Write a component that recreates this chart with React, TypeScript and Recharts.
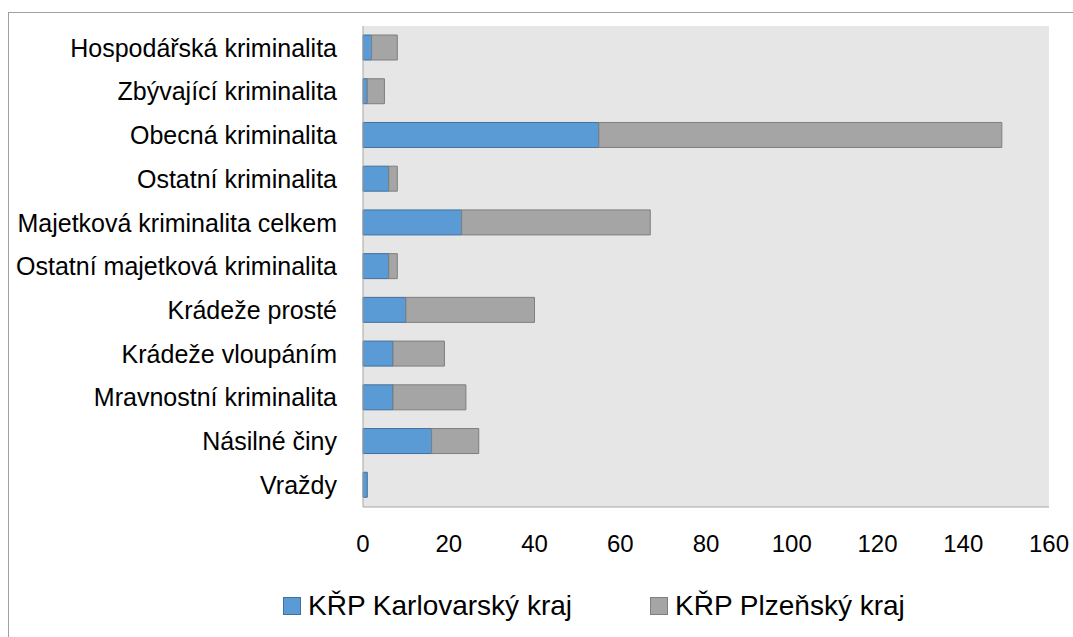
import React from "react";
import { BarChart, Bar, XAxis, YAxis, CartesianGrid, Legend } from "recharts";

const categories = [
  "Hospodářská kriminalita",
  "Zbývající kriminalita",
  "Obecná kriminalita",
  "Ostatní kriminalita",
  "Majetková kriminalita celkem",
  "Ostatní majetková kriminalita",
  "Krádeže prosté",
  "Krádeže vloupáním",
  "Mravnostní kriminalita",
  "Násilné činy",
  "Vraždy",
];
const karlovarsky = [2, 1, 55, 6, 23, 6, 10, 7, 7, 16, 1];
const plzensky = [6, 4, 94, 2, 44, 2, 30, 12, 17, 11, 0];
const xTicks = [0, 20, 40, 60, 80, 100, 120, 140, 160];

const seriesNames = ["KŘP Karlovarský kraj", "KŘP Plzeňský kraj"];
const seriesColors = ["#5b9bd5", "#a5a5a5"];
const seriesStrokes = ["#41719c", "#7f7f7f"];

const data = categories.map((name, i) => ({
  name,
  karlovarsky: karlovarsky[i],
  plzensky: plzensky[i],
}));

const FONT = '"Liberation Sans", Arial, sans-serif';

function CategoryTick(props: any) {
  const { x, y, payload } = props;
  return (
    <text x={x} y={y} dy="0.35em" textAnchor="end" fill="#000" fontSize={25} fontFamily={FONT}>
      {payload.value}
    </text>
  );
}

function LegendContent() {
  return (
    <div style={{ display: "flex", alignItems: "center", fontSize: 28, lineHeight: "32px", color: "#000", fontFamily: FONT, whiteSpace: "nowrap" }}>
      {seriesNames.map((n, i) => (
        <div key={n} style={{ display: "flex", alignItems: "center", marginRight: i === 0 ? 78 : 0 }}>
          <span
            style={{
              display: "inline-block",
              width: 18,
              height: 18,
              background: seriesColors[i],
              border: `1px solid ${seriesStrokes[i]}`,
              boxSizing: "border-box",
              marginRight: 7,
            }}
          />
          <span>{n}</span>
        </div>
      ))}
    </div>
  );
}

export default function App() {
  return (
    <div
      style={{
        position: "absolute",
        left: 0,
        top: 0,
        width: 1073,
        height: 637,
        overflow: "hidden",
        background: "#fff",
        fontFamily: FONT,
      }}
    >
      <div
        style={{
          position: "absolute",
          left: 8,
          top: 12,
          width: 1200,
          height: 700,
          border: "1px solid #a0a0a0",
        }}
      />
      <div style={{ position: "absolute", left: 0, top: 0 }}>
        <BarChart
          width={1073}
          height={637}
          data={data}
          layout="vertical"
          margin={{ top: 26, right: 24, left: 0, bottom: 80 }}
        >
          <CartesianGrid horizontal={false} vertical={false} fill="#e6e6e6" fillOpacity={1} stroke="none" />
          <XAxis
            type="number"
            domain={[0, 160]}
            ticks={xTicks}
            height={50}
            tickLine={false}
            tickSize={0}
            tickMargin={28}
            axisLine={{ stroke: "#a6a6a6", strokeWidth: 1 }}
            tick={{ fill: "#000", fontSize: 24 }}
          />
          <YAxis
            type="category"
            dataKey="name"
            width={363}
            tickLine={false}
            tickSize={0}
            tickMargin={26}
            axisLine={{ stroke: "#a6a6a6", strokeWidth: 1 }}
            tick={<CategoryTick />}
            interval={0}
          />
          <Legend
            layout="horizontal"
            verticalAlign="middle"
            wrapperStyle={{ left: 283, top: 590, width: "auto" }}
            content={<LegendContent />}
          />
          <Bar
            dataKey="karlovarsky"
            name={seriesNames[0]}
            stackId="a"
            fill={seriesColors[0]}
            stroke={seriesStrokes[0]}
            strokeWidth={1}
            barSize={25}
            isAnimationActive={false}
          />
          <Bar
            dataKey="plzensky"
            name={seriesNames[1]}
            stackId="a"
            fill={seriesColors[1]}
            stroke={seriesStrokes[1]}
            strokeWidth={1}
            barSize={25}
            isAnimationActive={false}
          />
        </BarChart>
      </div>
    </div>
  );
}
